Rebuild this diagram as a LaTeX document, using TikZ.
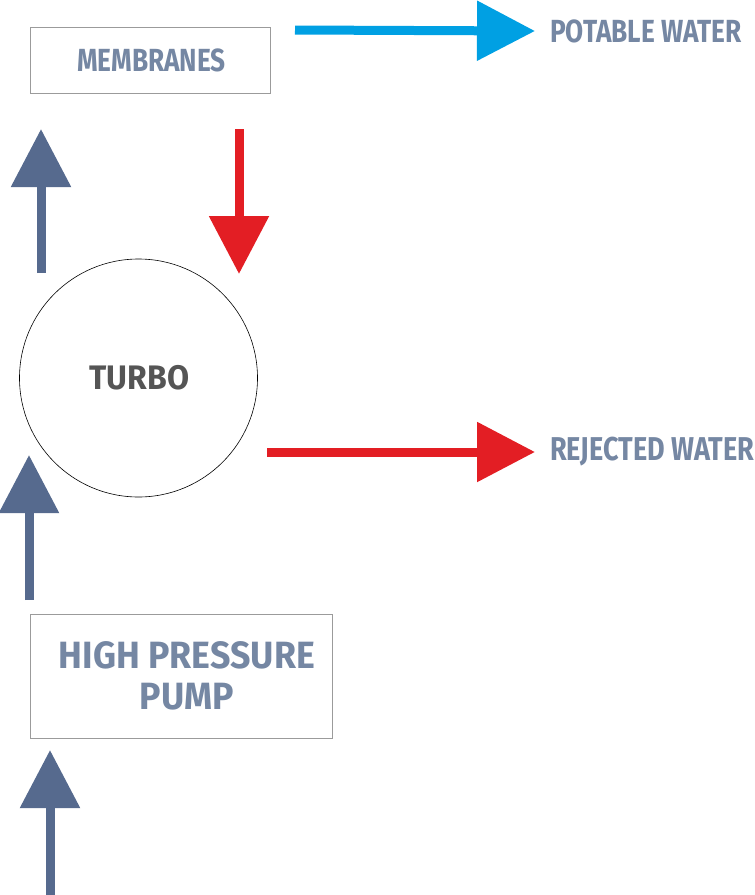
\documentclass[tikz,border=0pt]{standalone}
\usepackage{fontspec}
\newfontfamily\labelfont[FakeStretch=0.82]{Fira Sans}
\newfontfamily\widelabelfont[FakeStretch=0.94]{Fira Sans}
\usetikzlibrary{arrows.meta}
\definecolor{txtblue}{RGB}{117,135,163}
\definecolor{flowblue}{RGB}{86,106,142}
\definecolor{flowred}{RGB}{227,30,36}
\definecolor{flowcyan}{RGB}{0,160,227}
\definecolor{boxgray}{RGB}{155,155,155}
\definecolor{turbogray}{RGB}{85,85,85}

\begin{document}
\begin{tikzpicture}[x=1pt,y=-1pt,
    box/.style={draw=boxgray, line width=1pt, inner sep=0pt},
    lbl/.style={font=\labelfont\bfseries\fontsize{32}{38}\selectfont, text=txtblue},
    flow/.style={line width=9pt, -{Triangle[width=58pt,length=58pt]}}]
        \useasboundingbox (0,0) rectangle (755,895);
        \node [box, lbl, minimum width=240pt, minimum height=66pt, text depth=-3pt] (mem) at (150,60) {\hspace*{3pt}MEMBRANES};
        \node [draw, circle, line width=0.6pt, minimum size=238pt, lbl, font=\widelabelfont\bfseries\fontsize{34}{38}\selectfont, text=turbogray] (turbo) at (138.5,378) {\hspace*{2pt}TURBO};
        \node [box, lbl, font=\widelabelfont\bfseries\fontsize{38}{41}\selectfont, align=center, minimum width=302pt, minimum height=124pt] (pump) at (181,676) {\hspace*{12pt}HIGH PRESSURE\\\hspace*{12pt}PUMP};
        \node [lbl, anchor=west, inner sep=0pt] (pot) at (550,31) {POTABLE WATER};
        \node [lbl, font=\labelfont\bfseries\fontsize{33}{38}\selectfont, anchor=west, inner sep=0pt] (rej) at (550,452) {REJECTED WATER};
        \coordinate (potin) at (295,30);
        \coordinate (rejin) at (267,452);
        \coordinate (memout) at (239,129);
        \coordinate (turboin) at (239,274);
        \coordinate (turboout) at (41,273);
        \coordinate (memin) at (41,129);
        \coordinate (pumpout) at (29,600);
        \coordinate (turbofeed) at (29,455);
        \coordinate (sea) at (50,895);
        \coordinate (pumpin) at (50,750);
        \draw [flow, flowcyan] (potin) -- ([xshift=-15pt]pot.west);
        \draw [flow, flowred] (rejin) -- ([xshift=-15pt]rej.west);
        \draw [flow, flowred] (memout) -- (turboin);
        \draw [flow, flowblue] (turboout) -- (memin);
        \draw [flow, flowblue] (pumpout) -- (turbofeed);
        \draw [flow, flowblue] (sea) -- (pumpin);
    \end{tikzpicture}
\end{document}
